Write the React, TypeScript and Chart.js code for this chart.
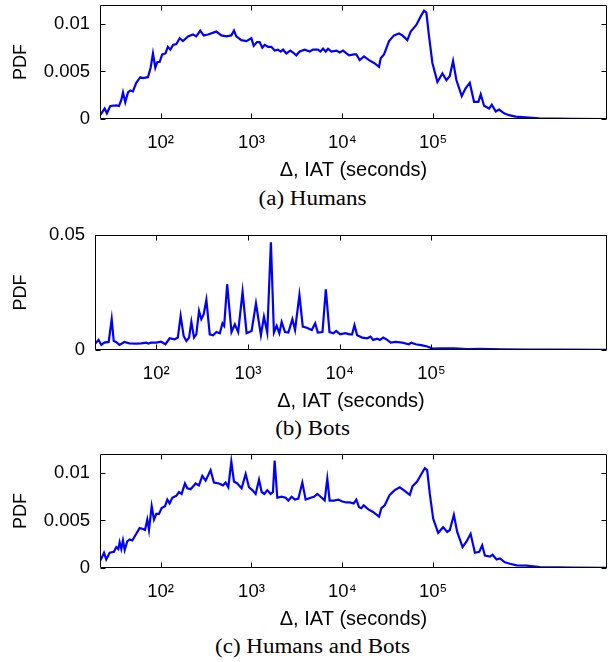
import React, { useEffect, useRef } from "react";
import { Chart, registerables } from "chart.js";

Chart.register(...registerables);

// ---------- data ----------
const humansX = [21.7, 24.2, 25.6, 27.9, 32.5, 34.8, 36.9, 38.5, 40.8, 43.7, 46.4, 49.5, 53.9, 59.7, 63.8, 72.4, 77.6, 82.3, 87.4, 91.9, 97.5, 104, 113, 120, 128, 137, 149, 162, 176, 200, 227, 247, 273, 298, 332, 410, 466, 529, 600, 642, 681, 773, 879, 997, 1058, 1151, 1231, 1317, 1397, 1520, 1655, 1801, 1960, 2098, 2225, 2421, 2679, 2866, 3118, 3393, 3852, 4372, 4760, 5403, 5735, 6133, 6561, 6962, 7580, 8600, 9360, 10190, 11830, 13450, 14260, 15530, 17330, 19670, 22340, 25350, 26470, 28790, 32680, 37070, 42080, 45800, 52000, 56600, 65300, 72900, 79400, 84200, 90100, 98100, 111400, 126500, 140000, 152300, 165600, 180200, 206400, 226600, 253000, 282100, 315000, 334000, 363600, 412800, 441900, 488300, 531800, 603500, 685000, 811700, 1045000, 1466000, 2240000, 3410000, 8200000];
const humansY = [0.00042, 0.0011, 0.0006, 0.00137, 0.00144, 0.00137, 0.002, 0.0028, 0.00176, 0.0028, 0.003, 0.0029, 0.0038, 0.0044, 0.0043, 0.0044, 0.0054, 0.0069, 0.0054, 0.006, 0.006, 0.0068, 0.0069, 0.0076, 0.0073, 0.0078, 0.0079, 0.0085, 0.0082, 0.0087, 0.0089, 0.0087, 0.0093, 0.0088, 0.0089, 0.0092, 0.0088, 0.0087, 0.0088, 0.0093, 0.0087, 0.0083, 0.0082, 0.0085, 0.0077, 0.0081, 0.0081, 0.0075, 0.0078, 0.0076, 0.0076, 0.0072, 0.0073, 0.0071, 0.0073, 0.0069, 0.0072, 0.007, 0.0067, 0.0071, 0.0073, 0.0071, 0.0073, 0.0073, 0.0071, 0.0074, 0.0071, 0.0074, 0.0071, 0.0072, 0.007, 0.0072, 0.0067, 0.0068, 0.0068, 0.0062, 0.0066, 0.0062, 0.0059, 0.0055, 0.0064, 0.0068, 0.0082, 0.0088, 0.009, 0.0088, 0.0083, 0.0092, 0.0099, 0.0108, 0.0114, 0.0112, 0.0087, 0.0059, 0.0039, 0.0048, 0.0041, 0.0045, 0.0061, 0.0041, 0.0024, 0.0032, 0.0038, 0.0018, 0.0018, 0.0026, 0.0014, 0.0011, 0.0015, 0.0008, 0.001, 0.0006, 0.0004, 0.00025, 0.00018, 0.00007, 0.00003, 0.00001, 0];

const botsX = [21.3, 23.5, 25.2, 27.2, 30.3, 32.7, 34.4, 36.5, 39.7, 45, 51, 60.4, 68.5, 77.6, 82, 87.6, 100, 113, 126, 140, 158.6, 172, 184.5, 199, 213, 228, 241.5, 258, 273.5, 292.6, 310, 329, 352, 383, 417, 453, 493, 527, 550, 593, 661, 719, 782, 873, 966, 1095, 1222, 1384, 1493, 1623, 1778, 1918, 2055, 2198, 2330, 2535, 2756, 3049, 3261, 3638, 3956, 4375, 4962, 5400, 5770, 6490, 7060, 7740, 8560, 9160, 10110, 11460, 12820, 13650, 14490, 15490, 17580, 19940, 21680, 23180, 25640, 27420, 29830, 32960, 35910, 40680, 48080, 56890, 60330, 67300, 79600, 90300, 102600, 126500, 176600, 247000, 345700, 573000, 1120000, 2390000, 8400000];
const botsY = [0.0025, 0.0044, 0.0022, 0.0032, 0.0035, 0.0134, 0.0039, 0.0035, 0.0022, 0.0035, 0.0029, 0.0028, 0.0029, 0.0032, 0.0028, 0.0032, 0.0032, 0.0036, 0.0025, 0.0051, 0.0046, 0.0054, 0.0148, 0.0061, 0.0039, 0.0054, 0.0122, 0.0054, 0.0068, 0.017, 0.0134, 0.0156, 0.0218, 0.0068, 0.0064, 0.0078, 0.0073, 0.0116, 0.0105, 0.0286, 0.0078, 0.0112, 0.0078, 0.0253, 0.0073, 0.0083, 0.0203, 0.0064, 0.0145, 0.0076, 0.0468, 0.0076, 0.0105, 0.0073, 0.0122, 0.0078, 0.0076, 0.0134, 0.0087, 0.024, 0.0102, 0.0097, 0.0087, 0.0116, 0.0076, 0.0078, 0.0264, 0.0078, 0.0073, 0.0083, 0.0068, 0.0073, 0.0068, 0.0068, 0.0108, 0.0064, 0.0054, 0.0051, 0.0058, 0.0044, 0.0049, 0.0044, 0.0054, 0.0044, 0.0032, 0.0035, 0.0032, 0.0025, 0.0032, 0.0025, 0.002, 0.0015, 0.0006, 0.0007, 0.0007, 0.0004, 0.0005, 0.0003, 0.0002, 0.0002, 0.0001];

const allX = [21.8, 23.8, 25.2, 27.5, 30.6, 32.5, 34.2, 35.4, 36.9, 38.5, 40.2, 42.9, 45.6, 48.8, 53.1, 58.7, 63.9, 67.3, 71.3, 74.4, 79.7, 84.5, 89.6, 95.9, 102.6, 111.6, 118.4, 125.5, 134.3, 148.6, 159.2, 170.2, 185.2, 196.6, 214, 243, 264, 287.5, 312.7, 354.8, 386, 438.5, 485, 519.5, 556, 599.8, 641.5, 698, 779, 862.6, 938, 1021, 1111, 1210, 1295, 1384, 1493, 1624, 1724, 1799, 1924, 2148, 2377, 2544, 2767, 3012, 3280, 3630, 3948, 4480, 4876, 5305, 5774, 6391, 6834, 7250, 8090, 9030, 10000, 11060, 12050, 13340, 14260, 15270, 16200, 17190, 19180, 21770, 25360, 26920, 29290, 33240, 37740, 42840, 47430, 55300, 59200, 66600, 74300, 80900, 85900, 91900, 100000, 113500, 128900, 142600, 152600, 169000, 184000, 210800, 233300, 258300, 288300, 321500, 346800, 371300, 421400, 450800, 499700, 543400, 616600, 700800, 829900, 1070000, 1500000, 2290000, 3500000, 8200000];
const allY = [0.0008, 0.0016, 0.0009, 0.0016, 0.0017, 0.0022, 0.002, 0.0027, 0.002, 0.0029, 0.0019, 0.0028, 0.003, 0.0029, 0.0035, 0.0042, 0.0041, 0.004, 0.0051, 0.004, 0.0065, 0.0051, 0.0057, 0.0057, 0.0063, 0.0065, 0.0072, 0.0068, 0.0074, 0.0076, 0.008, 0.0078, 0.0089, 0.0084, 0.0083, 0.0089, 0.0087, 0.0097, 0.0092, 0.0103, 0.009, 0.0089, 0.0087, 0.009, 0.0085, 0.0112, 0.0091, 0.0089, 0.0084, 0.0099, 0.0085, 0.0082, 0.0078, 0.0093, 0.008, 0.0078, 0.0082, 0.0078, 0.008, 0.0113, 0.0074, 0.0075, 0.0074, 0.0071, 0.0075, 0.0072, 0.0073, 0.009, 0.0072, 0.0074, 0.0075, 0.0078, 0.0075, 0.0071, 0.0094, 0.0071, 0.0071, 0.0072, 0.007, 0.0069, 0.0069, 0.0068, 0.0072, 0.0064, 0.0063, 0.0066, 0.0062, 0.0059, 0.0054, 0.0063, 0.0066, 0.0077, 0.0082, 0.0085, 0.0082, 0.0077, 0.0086, 0.0091, 0.0099, 0.0105, 0.0103, 0.0078, 0.0052, 0.0037, 0.0043, 0.0038, 0.004, 0.0056, 0.0038, 0.0022, 0.0028, 0.0036, 0.0016, 0.0017, 0.0024, 0.0013, 0.0012, 0.0014, 0.0009, 0.001, 0.0006, 0.00045, 0.00028, 0.00024, 0.0001, 0.00007, 0.00003, 0.00001];

const xTickValues = [100, 1000, 10000, 100000];
const xTickLabels = ["10\u00B2", "10\u00B3", "10\u2074", "10\u2075"];
const xMin = 21.5;
const xMax = 8.2e6;

const humansYTicks = [0, 0.005, 0.01];
const humansYLabels = ["0", "0.005", "0.01"];
const botsYTicks = [0, 0.05];
const botsYLabels = ["0", "0.05"];
const allYTicks = [0, 0.005, 0.01];
const allYLabels = ["0", "0.005", "0.01"];

const xTitle = "\u0394, IAT (seconds)";
const yTitle = "PDF";
const captions = ["(a) Humans", "(b) Bots", "(c) Humans and Bots"];

// ---------- layout ----------
const SANS = "'Liberation Sans', Arial, Helvetica, sans-serif";
const SERIF = "'Liberation Serif', 'Times New Roman', Times, serif";
const PAD_TOP = 12;
const X_AXIS_H = 66;
const BOX_RIGHT = 607;
const PAGE_W = 610;

const boxPlugin = {
  id: "matlabBox",
  afterDraw(chart: any) {
    const { ctx, chartArea } = chart;
    const { left, right, top, bottom } = chartArea;
    const xs = chart.scales.x;
    const ys = chart.scales.y;
    const len = 5;
    ctx.save();
    ctx.strokeStyle = "#000";
    ctx.lineWidth = 1;
    const L = Math.round(left) + 0.5;
    const R = Math.round(right) - 0.5;
    const T = Math.round(top) + 0.5;
    const B = Math.round(bottom) - 0.5;
    ctx.beginPath();
    ctx.rect(L, T, R - L, B - T);
    xs.ticks.forEach((t: any) => {
      const p = Math.round(xs.getPixelForValue(t.value)) + 0.5;
      ctx.moveTo(p, B);
      ctx.lineTo(p, B - len);
      ctx.moveTo(p, T);
      ctx.lineTo(p, T + len);
    });
    ys.ticks.forEach((t: any) => {
      const p = Math.round(ys.getPixelForValue(t.value)) + 0.5;
      ctx.moveTo(L, p);
      ctx.lineTo(L + len, p);
      ctx.moveTo(R, p);
      ctx.lineTo(R - len, p);
    });
    ctx.stroke();
    ctx.restore();
  },
};

type PanelProps = {
  xs: number[];
  ys: number[];
  yMax: number;
  yTicks: number[];
  yLabels: string[];
  boxTop: number;
  boxBottom: number;
  boxLeft: number;
};

function Panel(props: PanelProps) {
  const ref = useRef<HTMLCanvasElement | null>(null);
  const { xs, ys, yMax, yTicks, yLabels, boxTop, boxBottom, boxLeft } = props;
  const height = boxBottom - boxTop + PAD_TOP + X_AXIS_H;

  useEffect(() => {
    if (!ref.current) return;
    const points = xs.map((x, i) => ({ x, y: ys[i] }));
    const chart = new Chart(ref.current, {
      type: "line",
      data: {
        datasets: [
          {
            data: points,
            borderColor: "#0000ff",
            borderWidth: 2.2,
            pointRadius: 0,
            tension: 0,
            fill: false,
          },
        ],
      },
      options: {
        animation: false,
        responsive: false,
        maintainAspectRatio: false,
        devicePixelRatio: 1,
        layout: { padding: { top: PAD_TOP, right: PAGE_W - BOX_RIGHT, bottom: 0, left: 0 } },
        plugins: { legend: { display: false }, tooltip: { enabled: false }, title: { display: false } },
        scales: {
          x: {
            type: "logarithmic",
            min: xMin,
            max: xMax,
            grid: { display: false, drawTicks: false },
            border: { display: false },
            afterBuildTicks: (s: any) => {
              s.ticks = xTickValues.map((v) => ({ value: v }));
            },
            afterFit: (s: any) => {
              s.height = X_AXIS_H;
              s.paddingLeft = 0;
              s.paddingRight = 0;
            },
            ticks: {
              autoSkip: false,
              maxRotation: 0,
              minRotation: 0,
              padding: 13,
              color: "#000",
              font: { family: SANS, size: 18.5 },
              callback: (v: any) => {
                const i = xTickValues.indexOf(Number(v));
                return i >= 0 ? xTickLabels[i] : "";
              },
            },
            title: {
              display: true,
              text: xTitle,
              color: "#000",
              font: { family: SANS, size: 20 },
              padding: { top: 0, bottom: 3 },
            },
          },
          y: {
            min: 0,
            max: yMax,
            grid: { display: false, drawTicks: false },
            border: { display: false },
            afterBuildTicks: (s: any) => {
              s.ticks = yTicks.map((v) => ({ value: v }));
            },
            afterFit: (s: any) => {
              s.width = boxLeft;
              s.paddingTop = 0;
              s.paddingBottom = 0;
            },
            ticks: {
              autoSkip: false,
              padding: 10,
              color: "#000",
              font: { family: SANS, size: 18.5 },
              callback: (v: any) => {
                const i = yTicks.findIndex((t) => Math.abs(t - Number(v)) < 1e-9);
                return i >= 0 ? yLabels[i] : "";
              },
            },
            title: {
              display: true,
              text: yTitle,
              color: "#000",
              font: { family: SANS, size: 18 },
              padding: { top: 10.2, bottom: 0 },
            },
          },
        },
      },
      plugins: [boxPlugin],
    } as any);
    return () => chart.destroy();
  }, []);

  return (
    <canvas
      ref={ref}
      width={PAGE_W}
      height={height}
      style={{ position: "absolute", left: 0, top: boxTop - PAD_TOP, width: PAGE_W, height }}
    />
  );
}

function Caption({ text, baseline }: { text: string; baseline: number }) {
  return (
    <div
      style={{
        position: "absolute",
        left: 0,
        width: 625,
        top: baseline - 18.75,
        height: 24,
        lineHeight: "24px",
        fontFamily: SERIF,
        fontSize: 20,
        textAlign: "center",
        color: "#000",
        whiteSpace: "nowrap",
        transform: "scaleX(1.15)",
      }}
    >
      {text}
    </div>
  );
}

export default function App() {
  return (
    <div style={{ position: "absolute", left: 0, top: 0, width: PAGE_W, height: 662, background: "#fff", overflow: "hidden" }}>
      <Panel xs={humansX} ys={humansY} yMax={0.012} yTicks={humansYTicks} yLabels={humansYLabels} boxTop={5} boxBottom={119} boxLeft={100} />
      <Caption text={captions[0]} baseline={204.6} />
      <Panel xs={botsX} ys={botsY} yMax={0.05} yTicks={botsYTicks} yLabels={botsYLabels} boxTop={235} boxBottom={350} boxLeft={95} />
      <Caption text={captions[1]} baseline={435} />
      <Panel xs={allX} ys={allY} yMax={0.012} yTicks={allYTicks} yLabels={allYLabels} boxTop={454} boxBottom={568} boxLeft={100} />
      <Caption text={captions[2]} baseline={653} />
    </div>
  );
}
